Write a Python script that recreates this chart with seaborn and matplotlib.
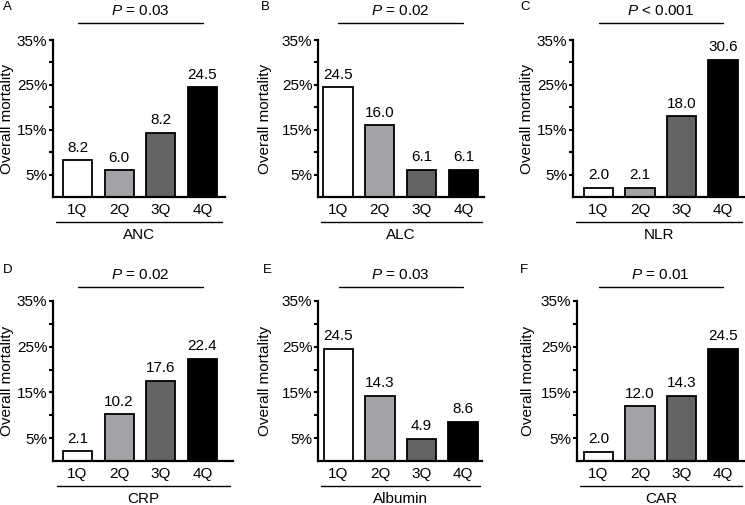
import numpy as np
import matplotlib
matplotlib.use("Agg")
import matplotlib.pyplot as plt
import matplotlib.transforms as mtransforms
from matplotlib.ticker import FixedLocator, NullFormatter
import seaborn as sns

# ---------------- data ----------------
quartiles = ["1Q", "2Q", "3Q", "4Q"]
panel_letters = ["A", "B", "C", "D", "E", "F"]
markers = ["ANC", "ALC", "NLR", "CRP", "Albumin", "CAR"]
p_texts = ["= 0.03", "= 0.02", "< 0.001", "= 0.02", "= 0.03", "= 0.01"]

anc_vals = [8.2, 6.0, 14.3, 24.5]
alc_vals = [24.5, 16.0, 6.1, 6.1]
nlr_vals = [2.0, 2.1, 18.0, 30.6]
crp_vals = [2.1, 10.2, 17.6, 22.4]
alb_vals = [24.5, 14.3, 4.9, 8.6]
car_vals = [2.0, 12.0, 14.3, 24.5]

anc_labels = ["8.2", "6.0", "8.2", "24.5"]
alc_labels = ["24.5", "16.0", "6.1", "6.1"]
nlr_labels = ["2.0", "2.1", "18.0", "30.6"]
crp_labels = ["2.1", "10.2", "17.6", "22.4"]
alb_labels = ["24.5", "14.3", "4.9", "8.6"]
car_labels = ["2.0", "12.0", "14.3", "24.5"]

values = [anc_vals, alc_vals, nlr_vals, crp_vals, alb_vals, car_vals]
labels = [anc_labels, alc_labels, nlr_labels, crp_labels, alb_labels, car_labels]

y_major = [5, 15, 25, 35]
y_minor = [10, 20, 30]
y_ticklabels = ["5%", "15%", "25%", "35%"]

bar_colors = ["#ffffff", "#a3a3a7", "#646464", "#000000"]

# ---------------- style ----------------
sns.set_style("ticks")
plt.rcParams["font.family"] = ["Liberation Sans", "DejaVu Sans"]
plt.rcParams["mathtext.fontset"] = "custom"
plt.rcParams["mathtext.it"] = "Liberation Sans:italic"
plt.rcParams["mathtext.rm"] = "Liberation Sans"
for k in ["text.color", "axes.labelcolor", "xtick.color", "ytick.color", "axes.edgecolor"]:
    plt.rcParams[k] = "black"

W, H = 745, 505
fig = plt.figure(figsize=(W / 100, H / 100), dpi=100)

# layout in pixels: spine x, axis end x, 1Q centre x, spacing, y0, y35
layout = [
    (53, 225, 77.5, 41.67, 197, 40),
    (318, 484, 338.0, 41.8, 197, 40),
    (573, 745, 598.5, 41.5, 197, 40),
    (53, 233, 77.5, 41.67, 461, 301),
    (318, 482, 338.5, 41.5, 461, 301),
    (577, 745, 598.5, 41.5, 461, 301),
]
ylabel_offsets = [39, 46, 39, 39, 46, 42]
letter_pos = [(3, 7), (261, 7), (520, 7), (3, 270), (263, 270), (520, 270)]

FS = 11

for i in range(6):
    sx, ex, c0, s, y0, y35 = layout[i]
    hpx = y0 - y35
    wpx = ex - sx
    ax = fig.add_axes([sx / W, (H - y0) / H, wpx / W, hpx / H])
    sns.barplot(x=quartiles, y=values[i], hue=quartiles, palette=bar_colors,
                edgecolor="black", linewidth=1.3, width=0.7, legend=False,
                ax=ax, saturation=1)
    ax.set_xlim((sx - c0) / s, (ex - c0) / s)
    ax.set_ylim(0, 35)
    sns.despine(ax=ax)
    for sp in ["left", "bottom"]:
        ax.spines[sp].set_linewidth(1.6)
    ax.yaxis.set_major_locator(FixedLocator(y_major))
    ax.set_yticklabels(y_ticklabels, fontsize=FS)
    ax.yaxis.set_minor_locator(FixedLocator(y_minor))
    ax.yaxis.set_minor_formatter(NullFormatter())
    ax.tick_params(axis="y", which="both", direction="out", length=3, width=1.5, pad=1.0)
    ax.tick_params(axis="x", length=0, pad=4, labelsize=FS)
    ax.set_xlabel("")
    ax.set_ylabel("Overall mortality", fontsize=FS)
    ax.yaxis.set_label_coords(-ylabel_offsets[i] / wpx, 0.5)

    # value labels
    for j, (v, t) in enumerate(zip(values[i], labels[i])):
        ax.annotate(t, xy=(j, v), xytext=(0, 4), textcoords="offset points",
                    ha="center", va="bottom", fontsize=FS)

    # category underline and name
    ax.plot([0.02, 0.985], [-25 / hpx] * 2, transform=ax.transAxes,
            color="black", lw=1.0, clip_on=False)
    ax.text(0.5, -38 / hpx, markers[i], transform=ax.transAxes,
            ha="center", va="center", fontsize=FS)

    # P-value line and text
    above = 17 if i < 3 else 14
    trans = mtransforms.blended_transform_factory(ax.transData, ax.transAxes)
    ax.plot([0, 3], [1 + above / hpx] * 2, transform=trans, color="black",
            lw=1.0, clip_on=False)
    ax.text(1.5, 1 + (above + 12) / hpx, r"$\mathit{P}$ " + p_texts[i],
            transform=trans, ha="center", va="center", fontsize=FS)

    # panel letter
    lx, ly = letter_pos[i]
    fig.text(lx / W, 1 - ly / H, panel_letters[i], ha="left", va="center",
             fontsize=9.5)

fig.savefig("out.png", dpi=100)
